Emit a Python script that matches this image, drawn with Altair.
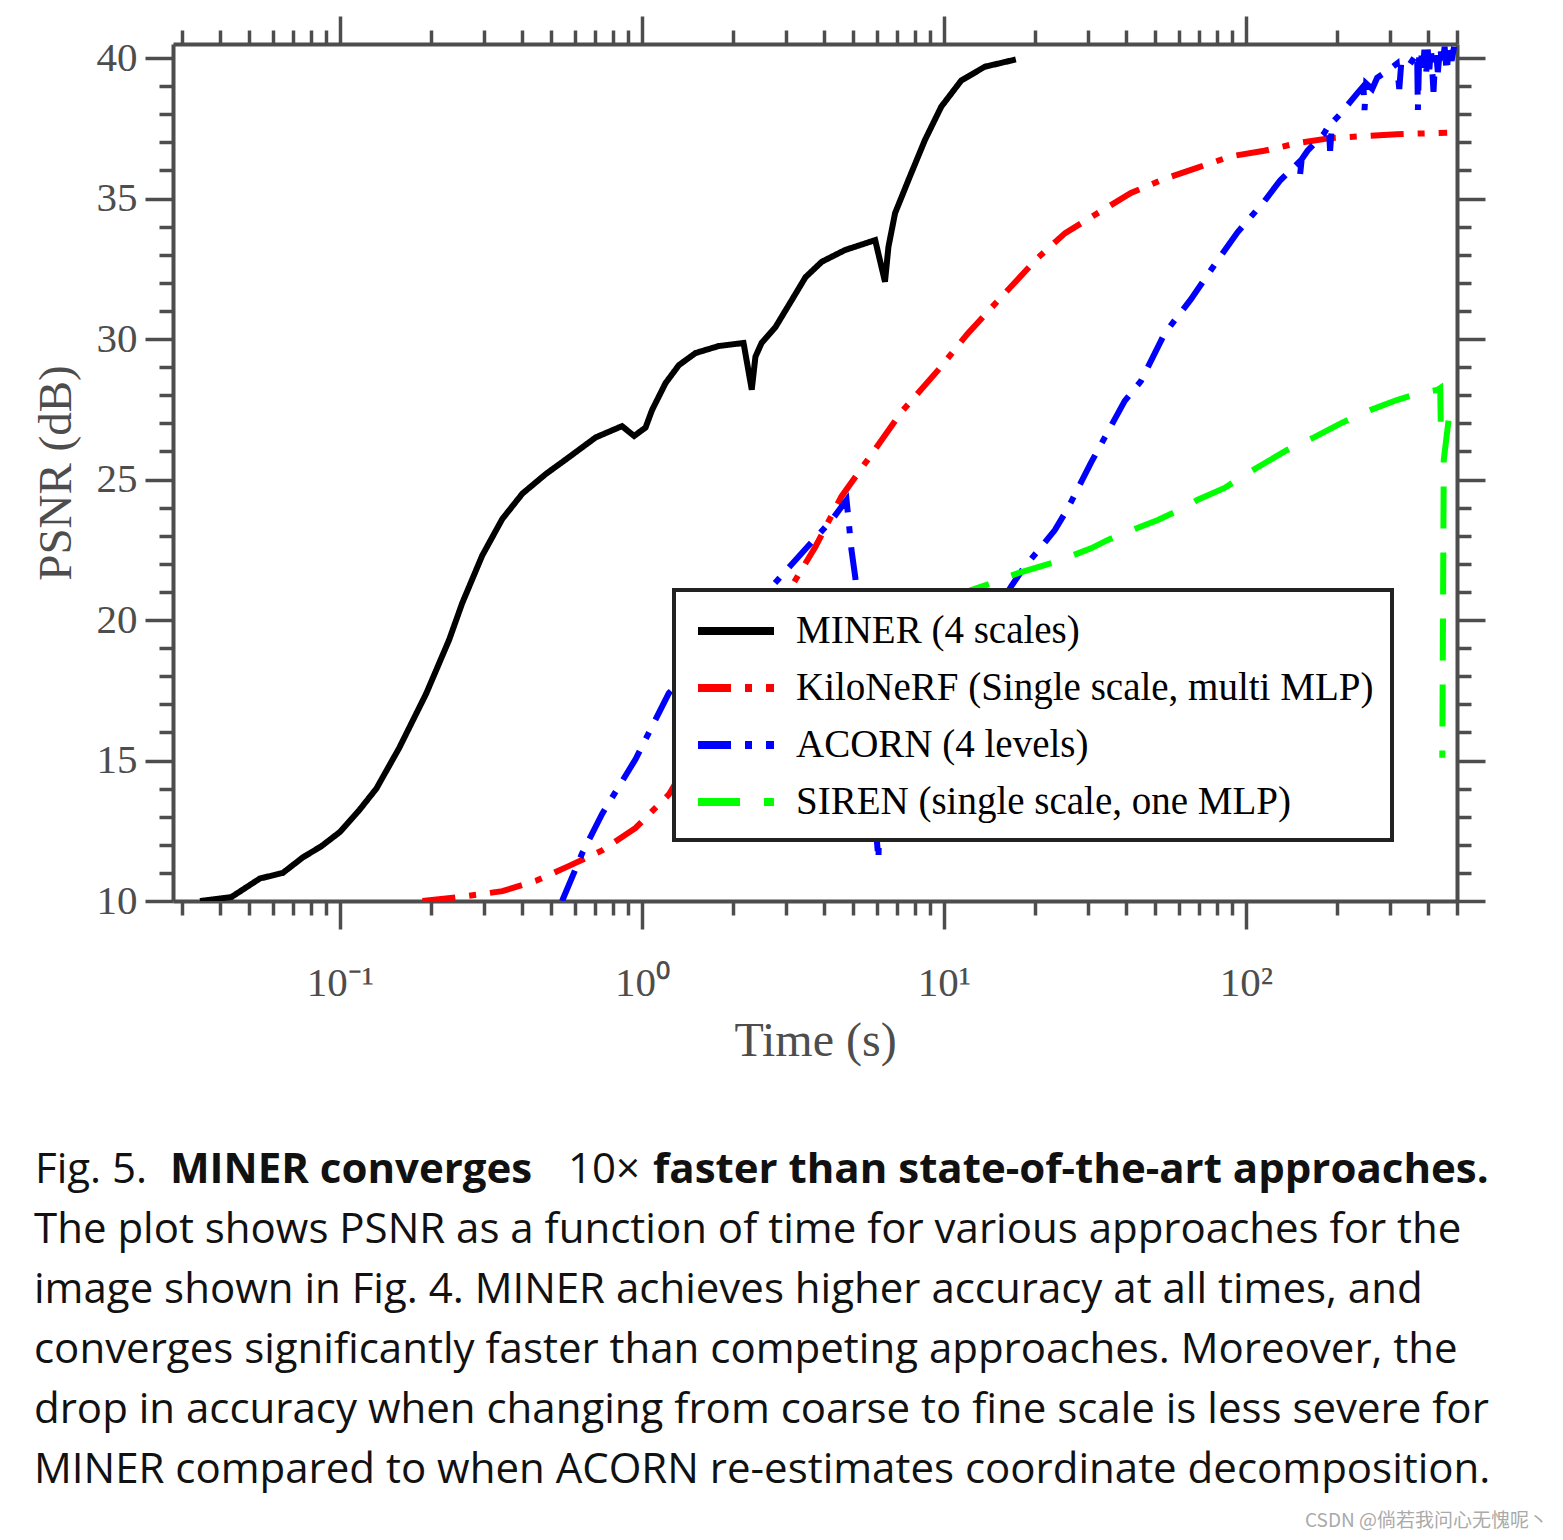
import altair as alt
import pandas as pd

# ---------------- data ----------------
series_names = ["MINER (4 scales)", "KiloNeRF (Single scale, multi MLP)",
                "ACORN (4 levels)", "SIREN (single scale, one MLP)"]
series_colors = ["#000000", "#ff0000", "#0000ff", "#00ff00"]
series_dashes = [[1, 0], [33, 14, 7, 14], [33, 14, 7, 14], [42, 24]]

miner_t = [0.0344, 0.0437, 0.0543, 0.0647, 0.0753, 0.0868, 0.0998, 0.116, 0.132,
           0.157, 0.193, 0.230, 0.254, 0.296, 0.345, 0.402, 0.481, 0.574, 0.703,
           0.859, 0.942, 1.028, 1.08, 1.197, 1.325, 1.504, 1.794, 2.17, 2.31,
           2.376, 2.49, 2.77, 3.14, 3.48, 3.94, 4.71, 5.92, 6.38, 6.55, 6.89,
           7.63, 8.65, 9.8, 11.41, 13.65, 17.3]
miner_psnr = [10.0, 10.14, 10.8, 11.0, 11.55, 11.95, 12.45, 13.24, 14.0, 15.44,
              17.38, 19.3, 20.6, 22.3, 23.6, 24.5, 25.2, 25.8, 26.5, 26.9, 26.55,
              26.85, 27.47, 28.43, 29.07, 29.5, 29.75, 29.86, 28.2, 29.37, 29.86,
              30.43, 31.4, 32.2, 32.75, 33.17, 33.52, 32.04, 33.28, 34.48, 35.66,
              37.08, 38.27, 39.2, 39.69, 39.95]

kilonerf_t = [0.1876, 0.248, 0.345, 0.446, 0.574, 0.738, 0.953, 1.23, 3.13, 3.75,
              4.58, 5.76, 7.23, 9.58, 12.0, 15.5, 20.5, 25.2, 32.3, 41.6, 53.8,
              69.2, 88.9, 115, 148, 190, 247, 316, 464]
kilonerf_psnr = [10.0, 10.14, 10.35, 10.72, 11.25, 11.8, 12.6, 13.8, 21.2, 22.6,
                 24.4, 25.9, 27.4, 28.9, 30.2, 31.5, 32.9, 33.77, 34.48, 35.2, 35.7,
                 36.1, 36.5, 36.7, 36.97, 37.15, 37.22, 37.29, 37.34]

acorn_t = [0.544, 0.634, 0.738, 0.953, 1.228, 2.63, 3.30, 4.25, 4.76, 4.94, 5.09,
           6.07, 6.12, 16.7, 18.5, 21.0, 23.3, 25.8, 30.7, 34.1, 39.7, 44.9, 53.8, 65.6,
           80.6, 93.8, 115, 130, 150, 151, 153, 160, 181, 188, 190, 193, 205, 234,
           245, 247, 250, 262, 272, 290, 316, 322, 327, 345, 369, 371, 375, 380,
           385, 390, 395, 400, 405, 410, 418, 425, 432, 440, 447, 455, 462, 470,
           480, 489]
acorn_psnr = [10.0, 11.7, 13.1, 15.05, 17.4, 21.07, 22.25, 23.56, 24.27, 22.5, 21.5,
              11.46, 13.5, 21.2, 21.9, 22.6, 23.2, 24.0, 25.6, 26.5, 27.8, 28.5, 30.2, 31.4,
              32.8, 33.8, 34.9, 35.65, 36.3, 35.8, 36.4, 36.7, 37.3, 37.6, 36.7, 37.7,
              38.0, 38.75, 39.0, 38.15, 39.1, 38.9, 39.3, 39.5, 39.8, 38.9, 39.85,
              39.7, 40.17, 38.15, 40.2, 40.3, 39.5, 40.3, 39.4, 40.3, 39.6, 40.35,
              38.8, 40.35, 39.5, 40.4, 39.7, 40.4, 39.5, 40.4, 39.9, 40.4]

siren_t = [10.5, 12.3, 14.3, 17.6, 23.9, 30.7, 34.9, 39.7, 51.1, 62.7, 69, 85, 104,
           137, 168, 206, 258, 316, 378, 430, 440, 442, 470, 452, 447]
siren_psnr = [20.7, 21.07, 21.3, 21.67, 22.1, 22.55, 22.85, 23.1, 23.56, 24.0, 24.27,
              24.7, 25.3, 26.05, 26.5, 27.0, 27.47, 27.83, 28.08, 28.19, 28.26, 26.8,
              27.2, 25.7, 15.1]

x_domain = [0.028, 500]
y_domain = [10, 40.5]
x_major = [0.1, 1, 10, 100]
x_tick_labels = ["10⁻¹", "10⁰", "10¹", "10²"]
x_minor = [m * 10.0 ** e for e in range(-2, 3) for m in range(2, 10)
           if x_domain[0] <= m * 10.0 ** e <= x_domain[1]]
y_major = [10, 15, 20, 25, 30, 35, 40]
y_minor = [v for v in range(10, 41) if v % 5 != 0]

caption_line1 = ["Fig. 5.", "MINER converges", "10×",
                 "faster than state-of-the-art approaches."]
caption_rest = [
    "The plot shows PSNR as a function of time for various approaches for the",
    "image shown in Fig. 4. MINER achieves higher accuracy at all times, and",
    "converges significantly faster than competing approaches. Moreover, the",
    "drop in accuracy when changing from coarse to fine scale is less severe for",
    "MINER compared to when ACORN re-estimates coordinate decomposition.",
]
watermark = "CSDN @倘若我问心无愧呢丶"

# ---------------- build table ----------------
rows = []
for name, ts, ps in [(series_names[0], miner_t, miner_psnr),
                     (series_names[1], kilonerf_t, kilonerf_psnr),
                     (series_names[2], acorn_t, acorn_psnr),
                     (series_names[3], siren_t, siren_psnr)]:
    for i, (t, p) in enumerate(zip(ts, ps)):
        rows.append({"series": name, "t": t, "psnr": p, "idx": i})
df = pd.DataFrame(rows)
dom = pd.DataFrame({"t": x_domain, "psnr": y_domain})
one = pd.DataFrame({"k": [0]})

GRAY = "#4d4d4d"
SERIF = "Liberation Serif"
SANS = "Open Sans"

xs = alt.Scale(type="log", domain=x_domain, nice=False)
ys = alt.Scale(domain=y_domain, nice=False, zero=False)

label_expr = ("datum.value < 0.5 ? '%s' : datum.value < 5 ? '%s' : "
              "datum.value < 50 ? '%s' : '%s'") % tuple(x_tick_labels)

common = dict(grid=False, tickColor=GRAY, tickWidth=3.5, domainColor=GRAY, domainWidth=4)

def minor_axis(orient, values):
    return alt.Axis(orient=orient, values=values, tickSize=14, labels=False,
                    domain=False, **common)

def major_axis_plain(orient, values):
    return alt.Axis(orient=orient, values=values, tickSize=28, labels=False,
                    domain=True, **common)

# horizontal line symbol twice as long as the nominal symbol box
legend = alt.Legend(title=None, orient="none", legendX=501, legendY=546,
                    symbolType="M-2,0H2", symbolSize=1444, symbolStrokeWidth=8,
                    symbolOffset=21,
                    labelFont=SERIF, labelFontSize=39, labelColor="black",
                    labelLimit=900, labelOffset=37, padding=18, rowPadding=14,
                    fillColor="white", strokeColor="#222222")

lines = alt.Chart(df).mark_line(strokeWidth=6, clip=True).encode(
    x=alt.X("t:Q", scale=xs, axis=alt.Axis(
        orient="bottom", values=x_major, tickSize=28, labelExpr=label_expr,
        labelFont=SERIF, labelFontSize=41, labelColor=GRAY, labelPadding=66,
        labelBaseline="alphabetic", labelFlush=False, labelOverlap=False,
        title="Time (s)", titleFont=SERIF, titleFontSize=48, titleFontWeight="normal",
        titleColor=GRAY, titleY=154, titleBaseline="alphabetic", **common)),
    y=alt.Y("psnr:Q", scale=ys, axis=alt.Axis(
        orient="left", values=y_major, tickSize=28, labelFont=SERIF,
        labelFontSize=41, labelColor=GRAY, labelPadding=8, labelOverlap=False,
        title="PSNR (dB)", titleFont=SERIF, titleFontSize=47, titleFontWeight="normal",
        titleColor=GRAY, titleX=-103, titleBaseline="alphabetic", **common)),
    color=alt.Color("series:N", scale=alt.Scale(domain=series_names, range=series_colors),
                    legend=legend),
    strokeDash=alt.StrokeDash("series:N",
                              scale=alt.Scale(domain=series_names, range=series_dashes),
                              legend=legend),
    order=alt.Order("idx:Q"),
)

def axis_layer(xaxis, yaxis):
    return alt.Chart(dom).mark_point(opacity=0).encode(
        x=alt.X("t:Q", scale=xs, axis=xaxis, title=None),
        y=alt.Y("psnr:Q", scale=ys, axis=yaxis, title=None),
    )

l_minor = axis_layer(minor_axis("bottom", x_minor), minor_axis("left", y_minor))
l_topright = axis_layer(major_axis_plain("top", x_major), major_axis_plain("right", y_major))
l_topright_minor = axis_layer(minor_axis("top", x_minor), minor_axis("right", y_minor))

# caption
CAP_SIZE = 42
line1_x = [-138, -3, 395, 480]
line1_bold = [False, True, False, True]
cap_layers = []
for txt, xx, b in zip(caption_line1, line1_x, line1_bold):
    cap_layers.append(alt.Chart(one).mark_text(
        text=txt, align="left", baseline="alphabetic", font=SANS, fontSize=CAP_SIZE,
        fontWeight="bold" if b else "normal", color="#111111").encode(
        x=alt.value(xx), y=alt.value(1139)))
cap_layers.append(alt.Chart(one).mark_text(
    text=caption_rest, lineHeight=60, align="left", baseline="alphabetic",
    font=SANS, fontSize=CAP_SIZE, color="#111111").encode(
    x=alt.value(-139), y=alt.value(1199)))
cap_layers.append(alt.Chart(one).mark_text(
    text=watermark, align="left", baseline="middle", font="Noto Sans CJK SC",
    fontSize=19, color="#aaaaaa").encode(x=alt.value(1132), y=alt.value(1477)))

chart = alt.layer(lines, l_minor, l_topright, l_topright_minor, *cap_layers).resolve_axis(
    x="independent", y="independent"
).properties(
    width=1284, height=857,
    autosize=alt.AutoSizeParams(type="none"),
    padding={"left": 165, "top": 36, "right": 98, "bottom": 630},
).configure_view(strokeWidth=0).configure_legend(strokeWidth=4)

chart.save("out.html", embed_options={"renderer": "svg", "actions": False})
